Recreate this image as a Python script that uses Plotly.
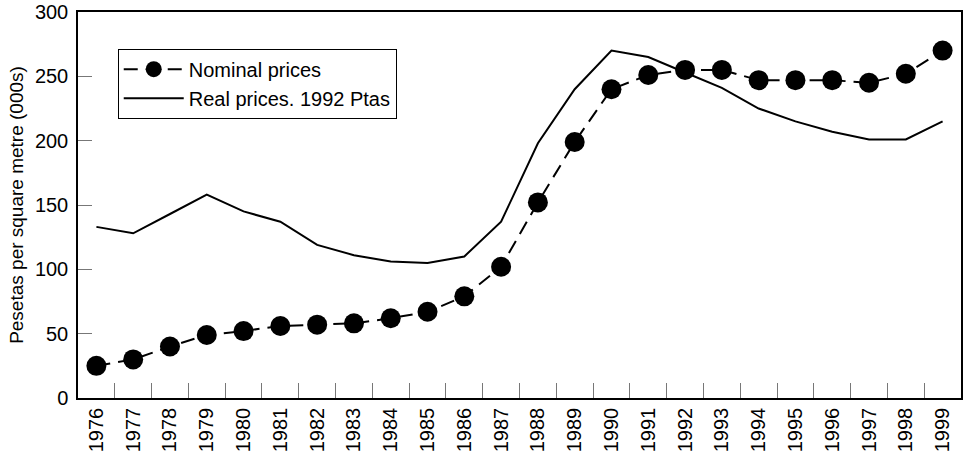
import plotly.graph_objects as go

years = [str(y) for y in range(1976, 2000)]
nominal = [25, 30, 40, 49, 52, 56, 57, 58, 62, 67, 79, 102, 152, 199, 240, 251,
           255, 255, 247, 247, 247, 245, 252, 270]
real = [133, 128, 143, 158, 145, 137, 119, 111, 106, 105, 110, 137, 198, 240,
        270, 265, 253, 241, 225, 215, 207, 201, 201, 215]
y_ticks = [0, 50, 100, 150, 200, 250, 300]

font = "Liberation Sans, Arial, Helvetica, sans-serif"

fig = go.Figure()
fig.add_trace(go.Scatter(
    x=years, y=nominal, name="Nominal prices", mode="lines+markers",
    line=dict(color="black", width=2, dash="14px,8px"),
    marker=dict(color="black", size=20, symbol="circle"),
))
fig.add_trace(go.Scatter(
    x=years, y=real, name="Real prices. 1992 Ptas", mode="lines",
    line=dict(color="black", width=2),
))

fig.update_layout(
    width=964, height=452,
    margin=dict(l=78, r=3, t=12, b=54),
    paper_bgcolor="white", plot_bgcolor="white",
    font=dict(family=font, size=20, color="black"),
    showlegend=True,
    legend=dict(
        x=0.045, y=0.905, xanchor="left", yanchor="top",
        bordercolor="black", borderwidth=1, bgcolor="white",
        font=dict(size=20), tracegroupgap=0, itemwidth=60,
    ),
    xaxis=dict(
        type="category", range=[-0.5, 23.5], tickson="boundaries",
        ticks="inside", ticklen=15, tickcolor="#777", tickwidth=1,
        tickangle=-90, showgrid=False, zeroline=False,
        showline=True, linecolor="black", linewidth=1.5, mirror=True,
        tickfont=dict(size=20), ticklabelstandoff=0, automargin=False,
    ),
    yaxis=dict(
        range=[0, 300], tickvals=y_ticks, ticktext=[str(v) for v in y_ticks],
        ticks="inside", ticklen=14, tickcolor="#777", tickwidth=1,
        showgrid=False, zeroline=False,
        showline=True, linecolor="black", linewidth=1.5, mirror=True,
        tickfont=dict(size=20), ticklabelstandoff=4, automargin=False,
        title=dict(text="Pesetas per square metre (000s)", font=dict(size=19), standoff=6),
    ),
)

fig.write_html(
    "out.html",
    config={"displayModeBar": False},
    post_script="document.body.style.margin='0px';document.body.style.overflow='hidden';",
)
